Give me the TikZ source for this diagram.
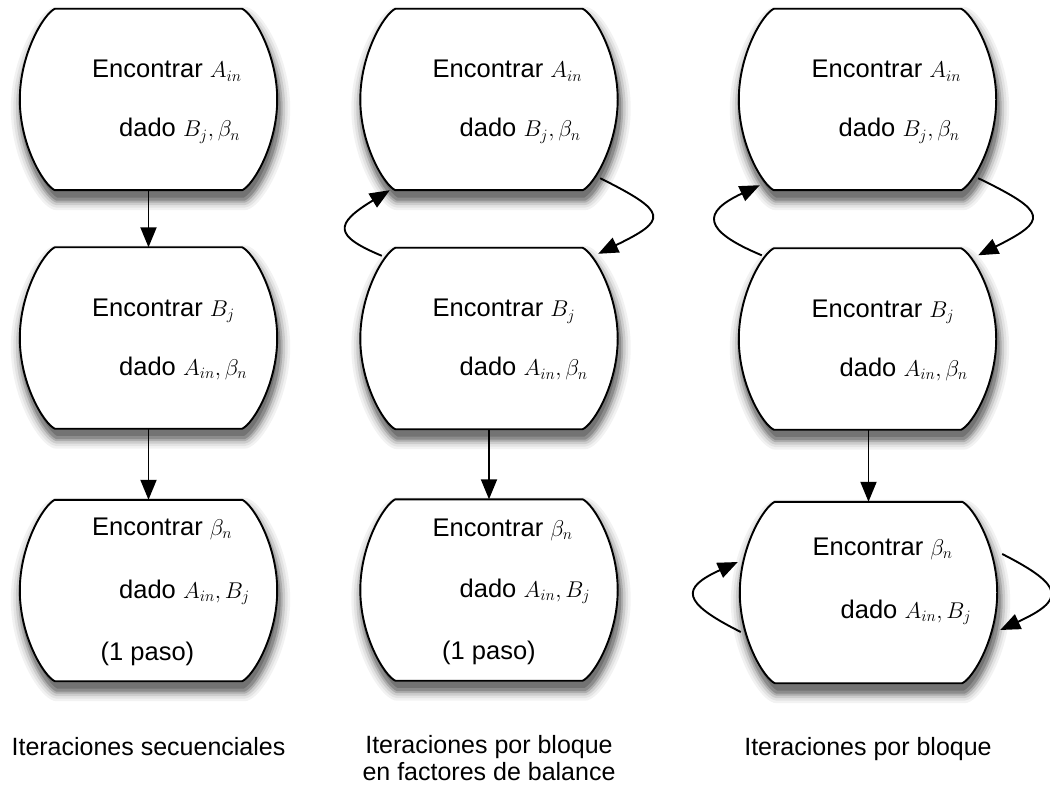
\documentclass[tikz,border=0pt]{standalone}
\usepackage{graphicx}
\usepackage{fontspec}
\setmainfont{Liberation Sans}
\usetikzlibrary{calc,arrows.meta}

\tikzset{
  x=1pt, y=-1pt,
  stagebox/.style={minimum width=257pt, minimum height=181pt, inner sep=0pt, draw=none},
  txt/.style={anchor=base west, inner sep=0pt, font=\fontsize{25.5}{30}\selectfont},
  caption/.style={anchor=base, inner sep=0pt, font=\fontsize{25}{30}\selectfont},
  conn/.style={line width=1.9pt, -{Triangle[length=20pt,width=16pt]}},
  outline/.style={line width=1.9pt, fill=white, line join=round},
  shade/.style={line join=round, transform canvas={xshift=2pt,yshift=-9pt}},
}
\newcommand\m[1]{\scalebox{1.1}{\fontsize{20.74}{24}\selectfont$#1$}}
\newcommand\blobpath[1]{($(#1.north west)+(35,0)$) -- ($(#1.north east)+(-35,0)$)
  .. controls ($(#1.north east)+(-24,5)$) and ($(#1.north east)+(0,45)$) .. (#1.east)
  .. controls ($(#1.south east)+(0,-45)$) and ($(#1.south east)+(-24,-5)$) .. ($(#1.south east)+(-35,0)$)
  -- ($(#1.south west)+(35,0)$)
  .. controls ($(#1.south west)+(24,-5)$) and ($(#1.south west)+(0,-45)$) .. (#1.west)
  .. controls ($(#1.north west)+(0,45)$) and ($(#1.north west)+(24,5)$) .. cycle}
\newcommand\blob[1]{%
  \draw[shade, line width=22pt, draw=black!5] \blobpath{#1};
  \draw[shade, line width=17pt, draw=black!11] \blobpath{#1};
  \draw[shade, line width=12pt, draw=black!20] \blobpath{#1};
  \draw[shade, line width=7pt, draw=black!32] \blobpath{#1};
  \draw[shade, line width=3pt, draw=black!45, fill=black!55] \blobpath{#1};
  \draw[outline] \blobpath{#1};}

\begin{document}
\begin{tikzpicture}
\useasboundingbox (0,0) rectangle (1050,786);

% boxes (invisible nodes carrying the geometry)
\node[stagebox] (a1) at (148.5,99.5) {};
\node[stagebox] (a2) at (148.5,338) {};
\node[stagebox] (a3) at (148.5,590.5) {};
\node[stagebox] (b1) at (489,99.5) {};
\node[stagebox] (b2) at (489,338.5) {};
\node[stagebox] (b3) at (489,590) {};
\node[stagebox] (c1) at (867.5,99.5) {};
\node[stagebox] (c2) at (867.5,339) {};
\node[stagebox] (c3) at (868.5,592.5) {};

\blob{a1}\blob{a2}\blob{a3}
\blob{b1}\blob{b2}\blob{b3}
\blob{c1}\blob{c2}\blob{c3}

% texts column 1
\node[txt] (a1t1) at ($(a1.center)+(-56.5,-21.5)$) {Encontrar \m{A_{in}}};
\node[txt] (a1t2) at ($(a1.center)+(-29.5,37.5)$) {dado \m{B_j,\beta_n}};
\node[txt] (a2t1) at ($(a2.center)+(-56.5,-21.5)$) {Encontrar \m{B_j}};
\node[txt] (a2t2) at ($(a2.center)+(-29.5,37.5)$) {dado \m{A_{in},\beta_n}};
\node[txt] (a3t1) at ($(a3.center)+(-56.5,-55)$) {Encontrar \m{\beta_n}};
\node[txt] (a3t2) at ($(a3.center)+(-29.5,7.5)$) {dado \m{A_{in},B_j}};
\node[txt] (a3t3) at ($(a3.center)+(-48,70)$) {(1 paso)};
% texts column 2
\node[txt] (b1t1) at ($(b1.center)+(-56.5,-21.5)$) {Encontrar \m{A_{in}}};
\node[txt] (b1t2) at ($(b1.center)+(-29.5,37.5)$) {dado \m{B_j,\beta_n}};
\node[txt] (b2t1) at ($(b2.center)+(-56.5,-21.5)$) {Encontrar \m{B_j}};
\node[txt] (b2t2) at ($(b2.center)+(-29.5,37.5)$) {dado \m{A_{in},\beta_n}};
\node[txt] (b3t1) at ($(b3.center)+(-56.5,-54)$) {Encontrar \m{\beta_n}};
\node[txt] (b3t2) at ($(b3.center)+(-29.5,7.5)$) {dado \m{A_{in},B_j}};
\node[txt] (b3t3) at ($(b3.center)+(-47,69)$) {(1 paso)};
% texts column 3
\node[txt] (c1t1) at ($(c1.center)+(-56,-21.5)$) {Encontrar \m{A_{in}}};
\node[txt] (c1t2) at ($(c1.center)+(-29,37.5)$) {dado \m{B_j,\beta_n}};
\node[txt] (c2t1) at ($(c2.center)+(-56,-21.5)$) {Encontrar \m{B_j}};
\node[txt] (c2t2) at ($(c2.center)+(-28,37.5)$) {dado \m{A_{in},\beta_n}};
\node[txt] (c3t1) at ($(c3.center)+(-56,-37.5)$) {Encontrar \m{\beta_n}};
\node[txt] (c3t2) at ($(c3.center)+(-28,25.5)$) {dado \m{A_{in},B_j}};

% captions
\node[caption] (cap1) at (148.5,755) {Iteraciones secuenciales};
\node[caption] (cap2a) at (489,753) {Iteraciones por bloque};
\node[caption] (cap2b) at (489,780) {en factores de balance};
\node[caption] (cap3) at (868,755) {Iteraciones por bloque};

% straight connectors
\draw[conn] (a1.south) -- (a2.north);
\draw[conn] (a2.south) -- (a3.north);
\draw[conn] (b2.south) -- (b3.north);
\draw[conn] (c2.south -| c3.north) -- (c3.north);

% loops column 2
\draw[conn] ($(b1.south east)+(-17.5,-12)$) .. controls ($(b1.south east)+(50.5,22)$) and ($(b2.north east)+(50.5,-28)$) .. ($(b2.north east)+(-19.5,6)$);
\draw[conn] ($(b2.north west)+(21.5,8)$) .. controls ($(b2.north west)+(-26.5,-12)$) and ($(b1.south west)+(-26.5,34)$) .. ($(b1.south west)+(29.5,0)$);

% loops column 3
\draw[conn] ($(c1.south east)+(-18,-12)$) .. controls ($(c1.south east)+(52,22)$) and ($(c2.north east)+(52,-28)$) .. ($(c2.north east)+(-18,7)$);
\draw[conn] ($(c2.north west)+(23,7)$) .. controls ($(c2.north west)+(-37,-18)$) and ($(c1.south west)+(-37,22)$) .. ($(c1.south west)+(21,-5)$);

% self loops on c3
\draw[conn] ($(c3.east)+(5,-38.5)$) .. controls ($(c3.east)+(68,-6.5)$) and ($(c3.east)+(68,7.5)$) .. ($(c3.east)+(3,37.5)$);
\draw[conn] ($(c3.west)+(1,39.5)$) .. controls ($(c3.west)+(-59,9.5)$) and ($(c3.west)+(-59,-4.5)$) .. ($(c3.west)+(-2,-30.5)$);
\end{tikzpicture}
\end{document}
